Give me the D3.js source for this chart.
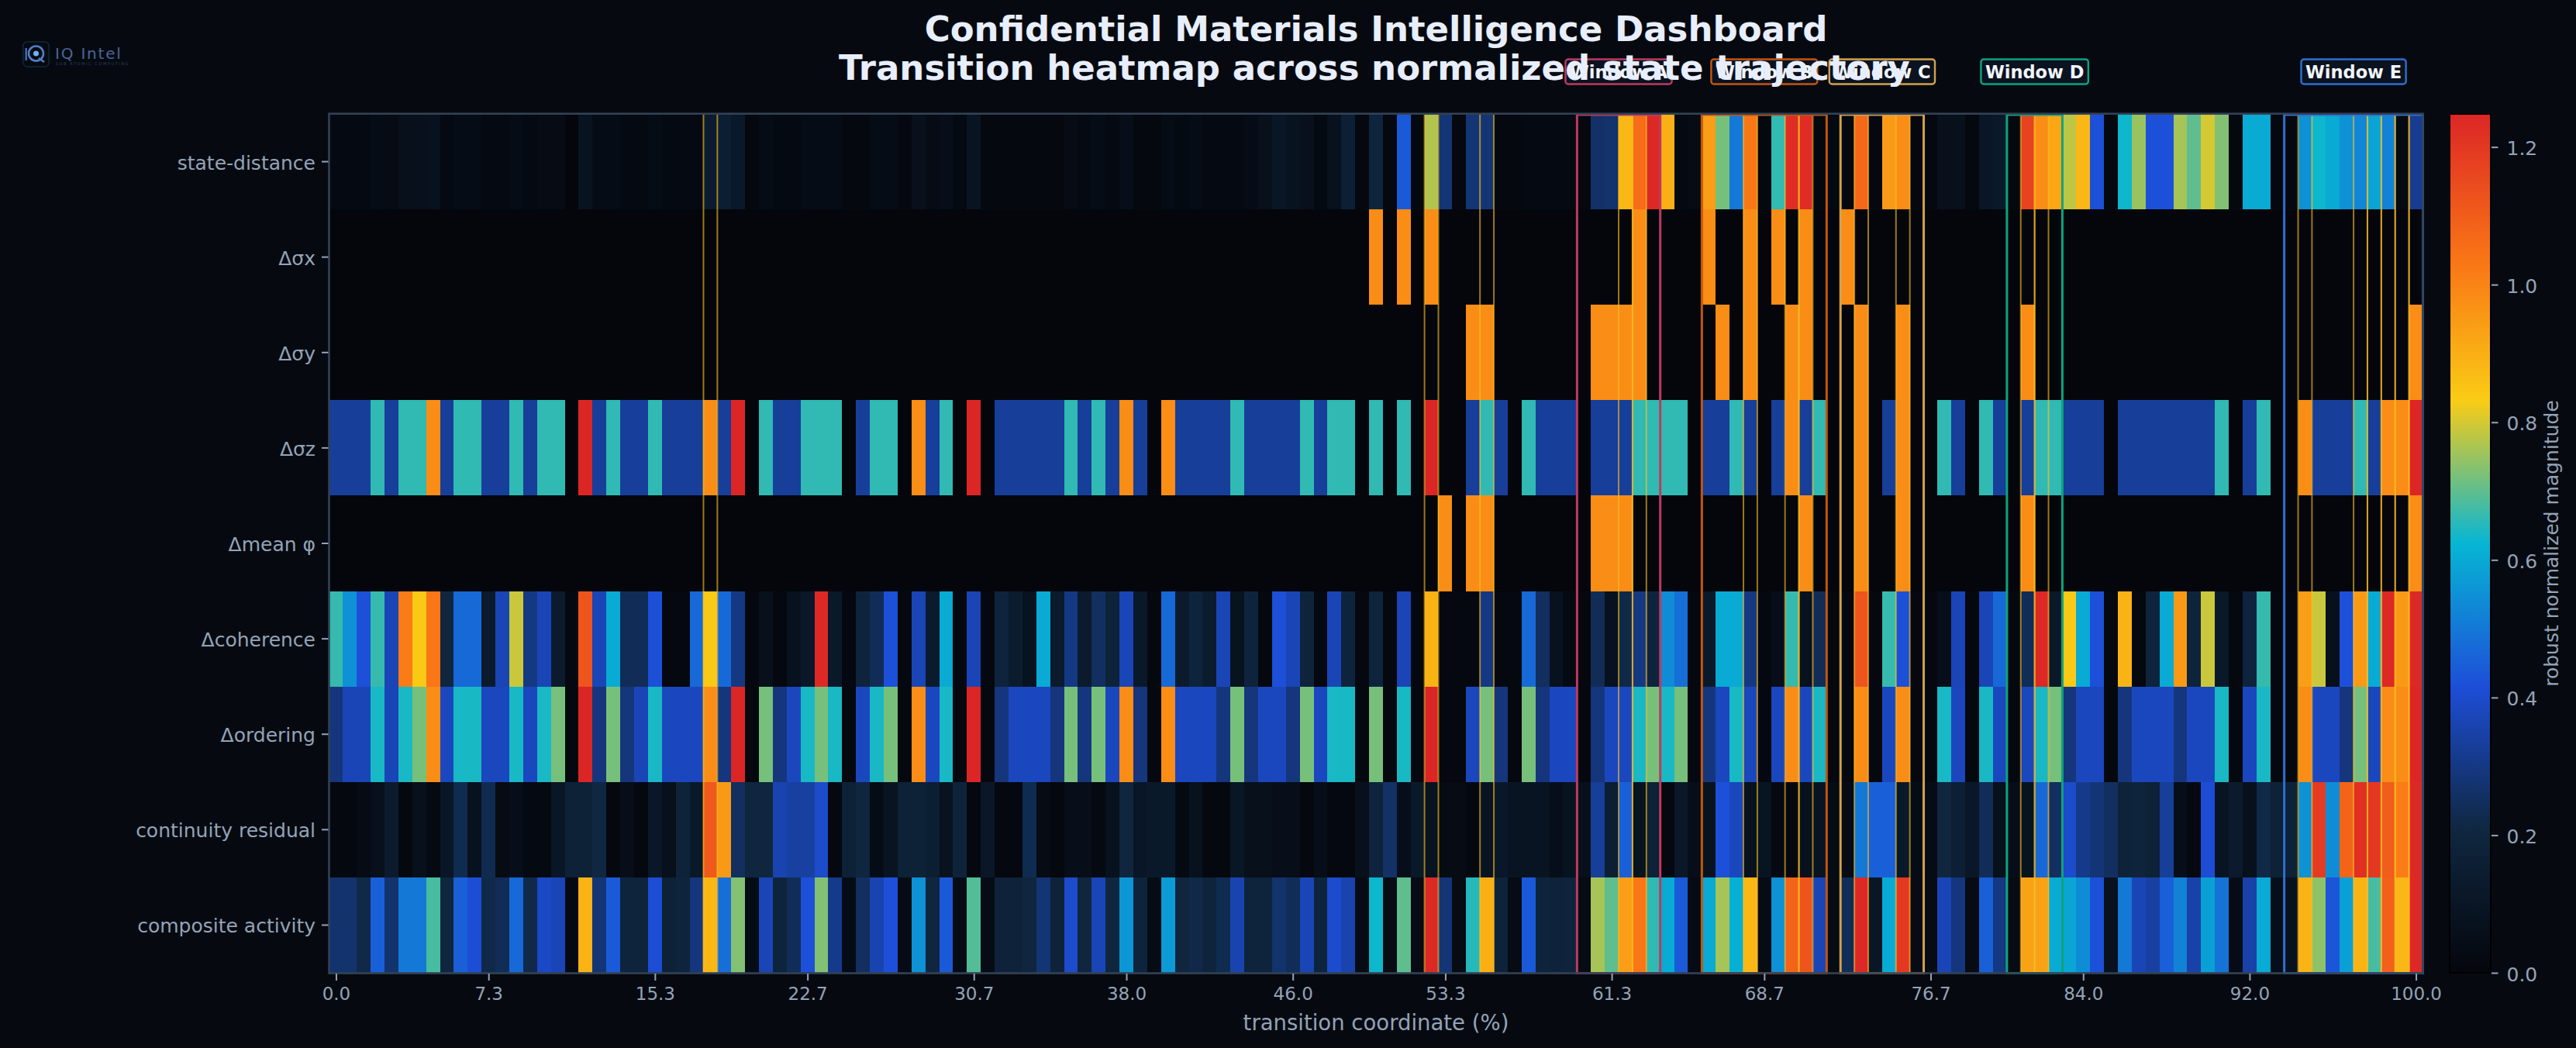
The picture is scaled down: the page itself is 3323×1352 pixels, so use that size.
<!DOCTYPE html>
<html><head><meta charset="utf-8">
<script src="https://cdn.jsdelivr.net/npm/d3@7/dist/d3.min.js"></script>
<style>html,body{margin:0;padding:0;background:#060a10;overflow:hidden}svg{display:block}text{font-family:"DejaVu Sans",sans-serif}</style>
</head><body><svg id="c" width="3323" height="1352"></svg>
<script>
const rowLabels=["state-distance","Δσx","Δσy","Δσz","Δmean φ","Δcoherence","Δordering","continuity residual","composite activity"];
const xTickIndex=[0,11,23,34,46,57,69,80,92,103,115,126,138,150];
const xTickLabels=["0.0","7.3","15.3","22.7","30.7","38.0","46.0","53.3","61.3","68.7","76.7","84.0","92.0","100.0"];
const cbTicks=[0,0.2,0.4,0.6,0.8,1.0,1.2];
const stateDistance=[
.02,.02,.02,.04,.03,.06,.06,.07,.02,.04,
.04,.02,.02,.04,.02,.03,.03,.00,.08,.04,
.04,.02,.02,.04,.02,.02,.02,.14,.15,.12,
.01,.04,.02,.02,.04,.04,.04,.01,.01,.04,
.04,.01,.06,.03,.05,.02,.09,.01,.01,.01,
.01,.01,.01,.03,.02,.04,.02,.05,.01,.01,
.04,.02,.04,.02,.02,.02,.04,.06,.10,.08,
.06,.02,.07,.16,.01,.19,.01,.44,.01,.77,
.28,.01,.28,.28,.01,.01,.02,.02,.02,.02,
.01,.26,.27,.88,1.06,1.24,.90,.02,.03,.94,
.72,.50,1.03,.01,.66,1.23,1.23,.01,.02,.01,
1.07,.01,.95,.98,.01,.01,.06,.06,.01,.10,
.12,.01,1.17,.98,.92,.78,.88,.42,.01,.63,
.75,.42,.42,.76,.70,.80,.73,.01,.60,.60,
.01,.01,.55,.63,.60,.55,.53,.59,.52,.02,.32];
const deltaSigmaX=[
0,0,0,0,0,0,0,0,0,0,
0,0,0,0,0,0,0,0,0,0,
0,0,0,0,0,0,0,0,0,0,
0,0,0,0,0,0,0,0,0,0,
0,0,0,0,0,0,0,0,0,0,
0,0,0,0,0,0,0,0,0,0,
0,0,0,0,0,0,0,0,0,0,
0,0,0,0,0,.98,0,.98,0,.98,
0,0,0,0,0,0,0,0,0,0,
0,0,0,0,.98,0,0,0,0,.98,
0,0,.98,0,.98,0,.98,0,0,.98,
0,0,0,0,0,0,0,0,0,0,
0,0,0,0,0,0,0,0,0,0,
0,0,0,0,0,0,0,0,0,0,
0,0,0,0,0,0,0,0,0,0,0];
const deltaSigmaY=[
0,0,0,0,0,0,0,0,0,0,
0,0,0,0,0,0,0,0,0,0,
0,0,0,0,0,0,0,0,0,0,
0,0,0,0,0,0,0,0,0,0,
0,0,0,0,0,0,0,0,0,0,
0,0,0,0,0,0,0,0,0,0,
0,0,0,0,0,0,0,0,0,0,
0,0,0,0,0,0,0,0,0,0,
0,0,.98,.98,0,0,0,0,0,0,
0,.98,.98,.98,.98,0,0,0,0,0,
.98,0,.98,0,0,.98,.98,0,0,0,
.98,0,0,.98,0,0,0,0,0,0,
0,0,.98,0,0,0,0,0,0,0,
0,0,0,0,0,0,0,0,0,0,
0,0,0,0,0,0,0,0,0,0,.98];
const deltaSigmaZ=[
.33,.33,.33,.66,.33,.66,.66,.98,.33,.66,
.66,.33,.33,.66,.33,.66,.66,0,1.25,.33,
.66,.33,.33,.66,.33,.33,.33,.98,.33,1.25,
0,.66,.33,.33,.66,.66,.66,0,.33,.66,
.66,0,.98,.33,.66,0,1.25,0,.33,.33,
.33,.33,.33,.66,.33,.66,.33,.98,.33,0,
.98,.33,.33,.33,.33,.66,.33,.33,.33,.33,
.66,.33,.66,.66,0,.66,0,.66,0,1.25,
0,0,.33,.66,.33,0,.66,.33,.33,.33,
0,.33,.33,.33,.66,.66,.66,.66,0,.33,
.33,.66,.33,0,.33,.98,.33,.66,0,0,
.98,0,.33,.98,0,0,.66,.33,0,.66,
.33,0,.33,.66,.66,.33,.33,.33,0,.33,
.33,.33,.33,.33,.33,.33,.66,0,.33,.66,
0,0,.98,.33,.33,.33,.66,.33,.98,.98,1.25];
const deltaMeanPhi=[
0,0,0,0,0,0,0,0,0,0,
0,0,0,0,0,0,0,0,0,0,
0,0,0,0,0,0,0,0,0,0,
0,0,0,0,0,0,0,0,0,0,
0,0,0,0,0,0,0,0,0,0,
0,0,0,0,0,0,0,0,0,0,
0,0,0,0,0,0,0,0,0,0,
0,0,0,0,0,0,0,0,0,0,
.98,0,.98,.98,0,0,0,0,0,0,
0,.98,.98,.98,0,0,0,0,0,0,
0,0,0,0,0,0,.98,0,0,0,
.98,0,0,.98,0,0,0,0,0,0,
0,0,.98,0,0,0,0,0,0,0,
0,0,0,0,0,0,0,0,0,0,
0,0,0,0,0,0,0,0,0,0,.98];
const deltaCoherence=[
.665,.55,.42,.665,.37,1.02,.84,1.03,.20,.47,
.47,.13,.37,.79,.30,.37,.13,.01,1.12,.37,
.60,.24,.24,.42,.01,.01,.47,.84,.47,.30,
.01,.06,.01,.07,.11,1.24,.12,.01,.19,.24,
.42,.01,.37,.13,.60,.01,.37,.01,.19,.14,
.08,.60,.13,.30,.13,.25,.18,.37,.12,.01,
.47,.13,.19,.14,.37,.08,.19,.01,.42,.37,
.19,.01,.37,.19,.01,.19,.01,.37,.01,.89,
.01,.01,.01,.30,.01,.01,.47,.25,.07,.02,
.01,.24,.07,.22,.30,.19,.54,.48,.01,.12,
.60,.60,.30,.01,.05,.665,.07,.24,.01,.01,
1.12,.01,.665,.42,.01,.01,.05,.37,.01,.37,
.47,.01,.24,1.24,.12,.84,.60,.42,.01,.89,
.01,.19,.60,.95,.19,.79,.12,.01,.19,.665,
.01,.01,.94,.79,.06,.42,.95,.60,1.24,.95,1.24];
const deltaOrdering=[
.29,.37,.37,.64,.37,.64,.72,.98,.38,.64,
.64,.38,.38,.64,.38,.64,.72,.01,1.25,.29,
.72,.29,.37,.64,.38,.38,.38,.98,.29,1.25,
.01,.72,.29,.38,.64,.72,.64,.01,.38,.64,
.72,.01,.98,.38,.64,.01,1.25,.01,.29,.38,
.38,.38,.29,.72,.29,.72,.38,.98,.29,.01,
.98,.38,.38,.38,.29,.72,.29,.38,.38,.29,
.72,.38,.64,.64,.01,.72,.01,.64,.01,1.25,
.01,.01,.38,.72,.29,.01,.72,.29,.38,.38,
.01,.29,.38,.38,.64,.72,.64,.72,.01,.29,
.38,.64,.38,.01,.38,.98,.38,.64,.01,.01,
.98,.01,.38,.98,.01,.01,.64,.38,.01,.64,
.38,.01,.38,.64,.72,.29,.38,.38,.01,.29,
.38,.38,.38,.29,.38,.38,.64,.01,.38,.64,
.01,.01,.98,.38,.38,.29,.72,.38,.98,.98,1.25];
const continuityResidual=[
.01,.01,.03,.06,.13,.01,.06,.02,.10,.23,
.07,.23,.03,.05,.02,.02,.10,.17,.17,.21,
.01,.05,.01,.11,.06,.18,.12,1.11,.95,.25,
.20,.20,.36,.34,.34,.40,.01,.17,.20,.04,
.09,.17,.17,.15,.08,.18,.01,.11,.01,.01,
.23,.03,.01,.05,.05,.02,.07,.20,.10,.12,
.12,.02,.07,.01,.01,.10,.06,.06,.05,.05,
.01,.05,.01,.01,.06,.19,.26,.05,.12,.08,
.03,.03,.01,.09,.11,.09,.09,.09,.05,.08,
.06,.33,.15,.45,.08,.17,.01,.11,.05,.08,
.42,.38,.07,.09,.02,.01,.07,.09,.03,.03,
.50,.45,.45,.12,.04,.04,.20,.16,.11,.24,
.06,.05,.08,.47,.25,.40,.31,.28,.25,.18,
.19,.17,.33,.05,.01,.41,.09,.13,.06,.22,
.17,.17,.55,1.19,.54,1.08,1.22,1.20,1.10,1.02,1.24];
const compositeActivity=[
.27,.27,.22,.45,.27,.50,.50,.68,.20,.45,
.41,.22,.24,.47,.22,.39,.37,.02,.89,.28,
.44,.19,.19,.41,.17,.19,.29,.88,.48,.73,
.04,.37,.19,.24,.42,.73,.31,.04,.25,.36,
.42,.03,.55,.20,.44,.03,.69,.04,.18,.18,
.20,.28,.18,.40,.20,.37,.20,.56,.19,.03,
.57,.20,.22,.19,.23,.36,.19,.19,.27,.24,
.37,.19,.40,.36,.03,.63,.03,.70,.03,1.24,
.28,.03,.65,.90,.18,.03,.44,.19,.18,.19,
.03,.76,.70,.94,1.03,.66,.60,.44,.03,.60,
.76,.61,.88,.03,.55,1.08,1.12,.37,.03,.24,
1.24,.10,.60,1.20,.03,.03,.37,.29,.03,.45,
.30,.03,.93,.93,.60,.59,.54,.42,.07,.50,
.37,.34,.45,.52,.35,.58,.49,.04,.35,.60,
.05,.07,.89,.74,.43,.58,.89,.68,1.09,.88,1.24];
const rows=[stateDistance,deltaSigmaX,deltaSigmaY,deltaSigmaZ,deltaMeanPhi,deltaCoherence,deltaOrdering,continuityResidual,compositeActivity];
const windowNames=["Window A","Window B","Window C","Window D","Window E"];
const windowStart=[90,99,109,121,141];
const windowEnd=[96,108,115,125,151];
const windowColors=["#be3a5f","#c2560f","#d1a24a","#0ea37c","#2f6fd0"];
const eventColumns=[27,79,83,93,94,102,105,106,110,113,122,123,142,146,147,148,149,150];
const vMax=1.248;
const cmapStops=["#04060c","#0f2740","#1d4ed8","#06b6d4","#facc15","#f97316","#dc2626"];

const L=424.5,R=3125.5,T=147,B=1255;
const svg=d3.select("#c");
const N=rows[0].length;
const xIdx=d3.scaleLinear().domain([0,N]).range([L,R]);
const yBand=d3.scaleBand().domain(rowLabels).range([T,B]);
const color=d3.scaleLinear().domain(cmapStops.map((_,i)=>i/6*vMax)).range(cmapStops).clamp(true);
const tickCol="#94a3b8";
svg.append("rect").attr("width",3323).attr("height",1352).attr("fill","#060a10");
// heat cells
const cells=[];rows.forEach((r,ri)=>r.forEach((v,ci)=>cells.push({ri,ci,v})));
svg.append("rect").attr("x",L).attr("y",T).attr("width",R-L).attr("height",B-T).attr("fill",color(0));
svg.append("g").attr("shape-rendering","crispEdges").selectAll("rect").data(cells).join("rect")
 .attr("x",d=>xIdx(d.ci)).attr("width",d=>xIdx(d.ci+1)-xIdx(d.ci)+.5)
 .attr("y",d=>yBand(rowLabels[d.ri])).attr("height",yBand.bandwidth()+.5)
 .attr("fill",d=>color(d.v));
// event outlines: each flagged column gets a line on both of its edges
const ev=svg.append("g").attr("stroke","#fbbf24").attr("stroke-opacity",.62).attr("stroke-width",2);
eventColumns.forEach(c=>[c,c+1].forEach(e=>ev.append("line").attr("x1",xIdx(e)).attr("x2",xIdx(e)).attr("y1",T).attr("y2",B)));
// windows
const win=svg.append("g").attr("fill","none");
windowNames.forEach((n,i)=>win.append("rect").attr("x",xIdx(windowStart[i])).attr("y",T+1).attr("width",xIdx(windowEnd[i])-xIdx(windowStart[i])).attr("height",B-T-.5)
 .attr("stroke",windowColors[i]).attr("stroke-width",3));
// frame
svg.append("rect").attr("x",L).attr("y",T-.3).attr("width",R-L).attr("height",B-T+.8).attr("fill","none").attr("stroke","#334155").attr("stroke-width",2.6);
// axes
const xAxisScale=d3.scaleLinear().domain([0,N]).range([L,R]);
const xAxis=d3.axisBottom(xAxisScale).tickValues(xTickIndex.map(i=>i+.5)).tickFormat((d,i)=>xTickLabels[i]).tickSize(9).tickPadding(9);
const gx=svg.append("g").attr("transform",`translate(0,${B+1})`).call(xAxis);
const yAxis=d3.axisLeft(yBand).tickSize(8.5).tickPadding(8);
const gy=svg.append("g").attr("transform",`translate(${L-1},0)`).call(yAxis);
[gx,gy].forEach(g=>{g.select(".domain").remove();g.selectAll("line").attr("stroke",tickCol).attr("stroke-width",2);g.selectAll("text").attr("fill",tickCol).attr("font-family","DejaVu Sans")});
gx.selectAll("text").attr("font-size",23);
gy.selectAll("text").attr("font-size",25).attr("dy",".4em");
svg.append("text").attr("x",(L+R)/2).attr("y",1329).attr("text-anchor","middle").attr("fill",tickCol).attr("font-size",27.5).text("transition coordinate (%)");
// colorbar
const CL=3160,CR=3213;
const cbY=d3.scaleLinear().domain([0,vMax]).range([B,T]);
const defs=svg.append("defs");
const lg=defs.append("linearGradient").attr("id","cb").attr("x1",0).attr("x2",0).attr("y1",1).attr("y2",0);
cmapStops.forEach((c,i)=>lg.append("stop").attr("offset",i/6).attr("stop-color",c));
svg.append("rect").attr("x",CL).attr("y",T).attr("width",CR-CL).attr("height",B-T).attr("fill","url(#cb)").attr("stroke","#000").attr("stroke-width",2);
const cbAxis=d3.axisRight(cbY).tickValues(cbTicks).tickFormat(d3.format(".1f")).tickSize(8.5).tickPadding(11);
const gc=svg.append("g").attr("transform",`translate(${CR+1},0)`).call(cbAxis);
gc.select(".domain").remove();gc.selectAll("line").attr("stroke",tickCol).attr("stroke-width",2);
gc.selectAll("text").attr("fill",tickCol).attr("font-size",25).attr("font-family","DejaVu Sans").attr("dy",".4em");
svg.append("text").attr("transform",`translate(3300,701) rotate(-90)`).attr("text-anchor","middle").attr("fill",tickCol).attr("font-size",25).text("robust normalized magnitude");
// window labels
windowNames.forEach((n,i)=>{
 const cx=xIdx((windowStart[i]+windowEnd[i])/2);
 const g=svg.append("g");
 const t=g.append("text").attr("x",cx).attr("y",100.5).attr("text-anchor","middle").attr("fill","#f1f5f9").attr("font-weight","bold").attr("font-size",22.5).text(n);
 const w=t.node().getComputedTextLength()+11;
 g.insert("rect","text").attr("x",cx-w/2).attr("y",76.5).attr("width",w).attr("height",32).attr("rx",3.5).attr("fill","#0b1220").attr("stroke",windowColors[i]).attr("stroke-width",2.4);
});
// title
const ttl=svg.append("g").attr("fill","#e8eefb").attr("font-weight","bold").attr("font-size",45).attr("text-anchor","middle");
ttl.append("text").attr("x",1775).attr("y",53).text("Confidential Materials Intelligence Dashboard");
ttl.append("text").attr("x",1773).attr("y",103).text("Transition heatmap across normalized state trajectory");
// logo
const lo=svg.append("g");
lo.append("rect").attr("x",30).attr("y",54).attr("width",33).attr("height",32).attr("rx",5).attr("fill","none").attr("stroke","#12283a").attr("stroke-width",1.5);
lo.append("circle").attr("cx",46.5).attr("cy",69).attr("r",3.5).attr("fill","#6ab4f5");
lo.append("circle").attr("cx",46.5).attr("cy",69).attr("r",9.5).attr("fill","none").attr("stroke","#4f7fc8").attr("stroke-width",2.6);
lo.append("line").attr("x1",50).attr("y1",75).attr("x2",57).attr("y2",80).attr("stroke","#4f7fc8").attr("stroke-width",2.6);
lo.append("rect").attr("x",32.5).attr("y",62).attr("width",2.4).attr("height",16).attr("fill","#3f6fb8");
lo.append("text").attr("x",71).attr("y",76).attr("fill","#4a659c").attr("font-size",20).attr("letter-spacing",1.8).text("IQ Intel");
lo.append("text").attr("x",72).attr("y",84).attr("fill","#26405f").attr("font-size",5).attr("letter-spacing",1.6).text("SUB ATOMIC COMPUTING");
</script></body></html>
